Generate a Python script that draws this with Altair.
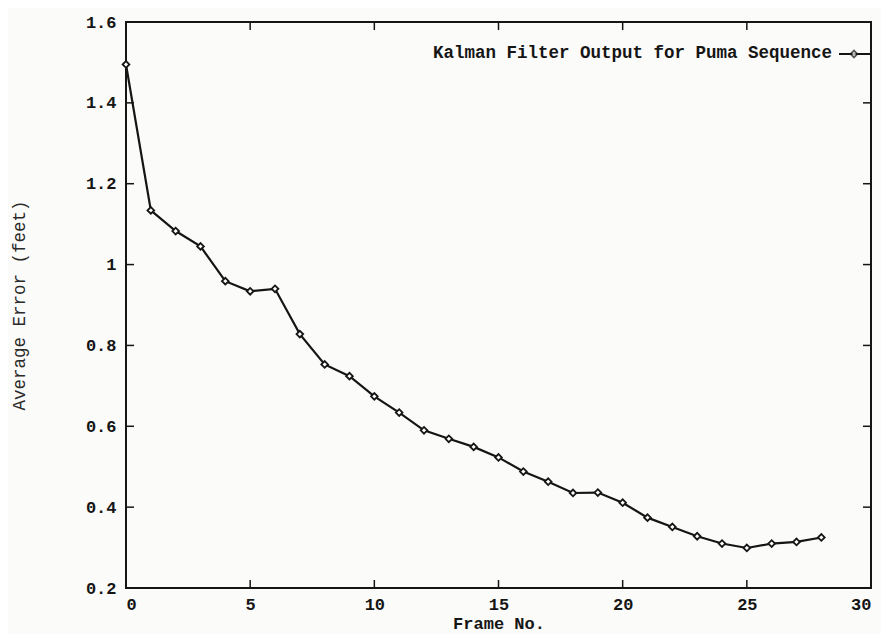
import altair as alt
import pandas as pd

# Data
frames = list(range(29))
avg_error = [1.495, 1.134, 1.083, 1.045, 0.959, 0.934, 0.940, 0.828, 0.753,
             0.724, 0.674, 0.634, 0.590, 0.569, 0.549, 0.523, 0.488, 0.463,
             0.435, 0.436, 0.411, 0.374, 0.351, 0.328, 0.310, 0.299, 0.310,
             0.314, 0.325]
x_tick_values = [0, 5, 10, 15, 20, 25, 30]
y_tick_values = [0.2, 0.4, 0.6, 0.8, 1.0, 1.2, 1.4, 1.6]
series_name = "Kalman Filter Output for Puma Sequence"

W, H = 745, 566
TICK = 8
MONO = "Liberation Mono"
INK = "#151515"

df = pd.DataFrame({"frame": frames, "error": avg_error})
xt = pd.DataFrame({"t": x_tick_values[1:-1]})
yt = pd.DataFrame({"t": y_tick_values[1:-1]})

xscale = alt.Scale(domain=[0, 30], nice=False, zero=False)
yscale = alt.Scale(domain=[0.2, 1.6], nice=False, zero=False)

line = alt.Chart(df).mark_line(
    color=INK, strokeWidth=2.2,
    point=alt.OverlayMarkDef(shape="diamond", filled=True, fill="white",
                             stroke=INK, strokeWidth=1.8, size=45)
).encode(
    x=alt.X("frame:Q", scale=xscale,
            axis=alt.Axis(values=x_tick_values, ticks=False, domain=False, grid=False,
                          labelFont=MONO, labelFontSize=17, labelFontWeight="bold",
                          labelColor=INK, labelPadding=8,
                          title="Frame No.", titleFont=MONO, titleFontSize=17,
                          titleFontWeight="bold", titleColor=INK, titlePadding=3)),
    y=alt.Y("error:Q", scale=yscale,
            axis=alt.Axis(values=y_tick_values, format="~g", ticks=False, domain=False,
                          grid=False, labelFont=MONO, labelFontSize=17,
                          labelFontWeight="bold", labelColor=INK, labelPadding=10,
                          title="Average Error (feet)", titleFont=MONO,
                          titleFontSize=17.5, titleFontWeight="normal", titleColor="#2a2a2a",
                          titlePadding=57)),
)

# inward ticks on all four sides
bx = alt.Chart(xt).mark_rule(color=INK, strokeWidth=1.5).encode(
    x=alt.X("t:Q", scale=xscale), y=alt.value(H), y2=alt.value(H - TICK))
tx = alt.Chart(xt).mark_rule(color=INK, strokeWidth=1.5).encode(
    x=alt.X("t:Q", scale=xscale), y=alt.value(0), y2=alt.value(TICK))
ly = alt.Chart(yt).mark_rule(color=INK, strokeWidth=1.5).encode(
    y=alt.Y("t:Q", scale=yscale), x=alt.value(0), x2=alt.value(TICK))
ry = alt.Chart(yt).mark_rule(color=INK, strokeWidth=1.5).encode(
    y=alt.Y("t:Q", scale=yscale), x=alt.value(W), x2=alt.value(W - TICK))

# key in the top right corner
key = pd.DataFrame({"label": [series_name]})
key_text = alt.Chart(key).mark_text(
    font=MONO, fontSize=17.5, fontWeight="bold", align="right", baseline="middle", color=INK
).encode(text="label:N", x=alt.value(706), y=alt.value(31))
key_line = alt.Chart(key).mark_rule(color=INK, strokeWidth=2).encode(
    x=alt.value(713), x2=alt.value(745), y=alt.value(32))
key_pt = alt.Chart(key).mark_point(
    shape="diamond", filled=True, fill="white", stroke=INK, strokeWidth=1.8, size=45
).encode(x=alt.value(728), y=alt.value(32))

chart = alt.layer(line, bx, tx, ly, ry, key_text, key_line, key_pt).properties(
    width=W, height=H,
    autosize=alt.AutoSizeParams(type="none"),
    padding={"left": 118, "top": 14, "right": 10, "bottom": 46},
    background="#fbfbf9",
).configure_view(stroke=INK, strokeWidth=2)

chart.save("out.html", embed_options={"renderer": "svg", "actions": False})
